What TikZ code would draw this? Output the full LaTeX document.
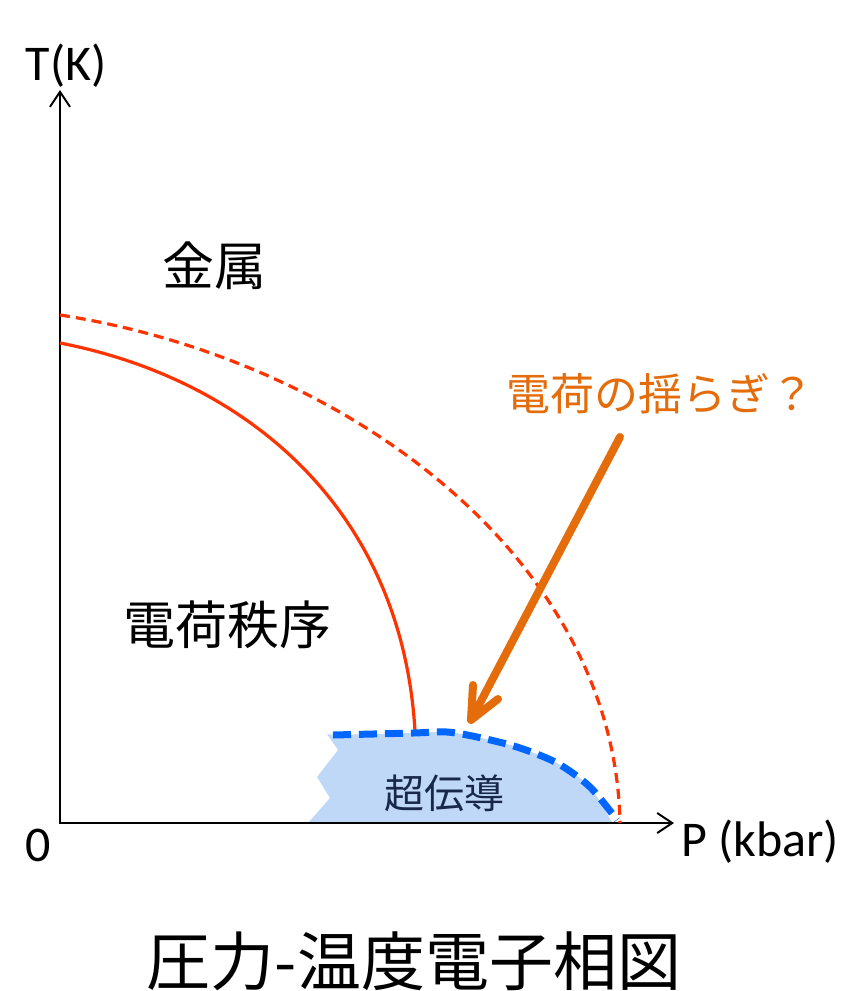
\documentclass[tikz,border=0pt]{standalone}
\usepackage{fontspec}
\setmainfont{Carlito}
\newfontfamily\jp{Noto Sans CJK JP}
\usetikzlibrary{arrows.meta,calc}
\definecolor{redline}{HTML}{FF3300}
\definecolor{orangeA}{HTML}{E46C0A}
\definecolor{blueD}{HTML}{0066FF}
\definecolor{blueF}{HTML}{C0D8F8}
\definecolor{navyT}{HTML}{17284A}
\tikzset{
  axisline/.style={line width=2.4pt, -{Straight Barb[length=15pt,width=20pt,line width=2pt]}},
  phaseline/.style={redline, line width=3.2pt},
  phasedash/.style={redline, line width=3.2pt, dash pattern=on 10pt off 6pt},
  scdash/.style={blueD, line width=7pt, dash pattern=on 18pt off 8pt},
  scfill/.style={fill=blueF},
  bigarrow/.style={orangeA, line width=8pt, line join=round, line cap=round},
  lab/.style={inner sep=0pt, font=\fontsize{50}{56}\selectfont},
  jlab/.style={inner sep=0pt, font=\jp\fontsize{52}{58}\selectfont},
}
\begin{document}
\begin{tikzpicture}[x=1pt,y=-1pt]
\useasboundingbox (0,0) rectangle (851,991);
% superconducting region
\fill[scfill] (308,823) -- (330,798) -- (317,777) -- (338,750) -- (327,734)
  -- plot[smooth] coordinates {(333,735) (413,733) (447,732) (477,737) (517,747) (557,763) (590,787) (612,823)} -- cycle;
% axes
\coordinate (O) at (60,823);
\coordinate (ytop) at (60,90);
\coordinate (xend) at (674,823);
\draw[axisline] (60,824.2) -- (ytop);
\draw[axisline] (58.8,823) -- (xend);
% phase boundaries
\coordinate (s0) at (60,343);
\coordinate (s1) at (415,731);
\coordinate (d0) at (60,315);
\coordinate (d1) at (620,823);
\draw[phaseline] (s0) .. controls (250,380) and (402,512) .. (s1);
\draw[phasedash] (d0) .. controls (350,360) and (615,560) .. (d1);
\draw[scdash] plot[smooth] coordinates {(333,735) (413,733) (447,732) (477,737) (517,747) (557,763) (590,787) (617,820)};
% arrow
\coordinate (atail) at (620,437);
\coordinate (atip) at (471,720);
\draw[bigarrow] (atail) -- ($(atip)!4pt!(atail)$);
\draw[bigarrow] ($(atip)+(2,-35)$) -- (atip) -- ($(atip)+(27,-21)$);
% labels
\node[lab] (tk) at (66,66) {T(K)};
\node[lab, anchor=west] (pk) at (681,842) {P (kbar)};
\node[lab] (zero) at (38,845) {0};
\node[jlab] (metal) at (214,266) {金属};
\node[jlab] (co) at (227,625) {電荷秩序};
\node[inner sep=0pt, font=\jp\fontsize{40}{46}\selectfont, text=navyT] (sc) at (444,793) {超伝導};
\node[inner sep=0pt, font=\jp\fontsize{44}{50}\selectfont, text=orangeA] (fl) at (660,394) {電荷の揺らぎ？};
\node[inner sep=0pt, font=\jp\fontsize{64}{70}\selectfont] (title) at (414,961) {圧力-温度電子相図};
\end{tikzpicture}
\end{document}
